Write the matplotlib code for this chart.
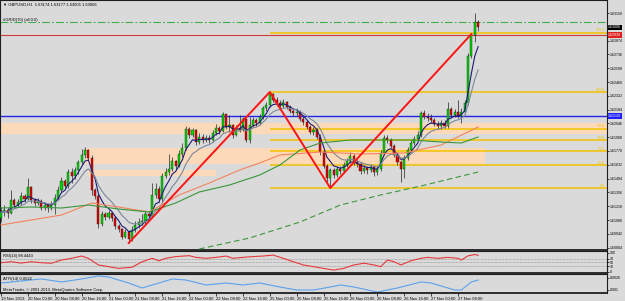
import matplotlib
matplotlib.use("Agg")
import matplotlib.pyplot as plt
import matplotlib.transforms as mtransforms
import numpy as np
import pandas as pd

# --- GBPUSD H1 candles (bar 0 = 19 Nov 2013 16:00) ---
first_open = 1.6110
close = [
    1.6116, 1.6118, 1.6115, 1.6128, 1.6123, 1.6126, 1.6132, 1.6129, 1.6141, 1.6128,
    1.6125, 1.6127, 1.6120, 1.6123, 1.6120, 1.6123, 1.6130, 1.6138, 1.6147, 1.6142,
    1.6156, 1.6152, 1.6158, 1.6166, 1.6173, 1.6178, 1.6170, 1.6138, 1.6132, 1.6104,
    1.6114, 1.6111, 1.6115, 1.6110, 1.6102, 1.6099, 1.6091, 1.6096, 1.6089, 1.6098,
    1.6103, 1.6106, 1.6107, 1.6114, 1.6112, 1.6133, 1.6139, 1.6129, 1.6152, 1.6156,
    1.6159, 1.6167, 1.6162, 1.6174, 1.6180, 1.6199, 1.6193, 1.6198, 1.6186, 1.6191,
    1.6188, 1.6190, 1.6188, 1.6195, 1.6200, 1.6197, 1.6214, 1.6201, 1.6203, 1.6193,
    1.6200, 1.6198, 1.6209, 1.6188, 1.6203, 1.6208, 1.6205, 1.6211, 1.6220, 1.6223,
    1.6234, 1.6228, 1.6225, 1.6222, 1.6226, 1.6221, 1.6217, 1.6215, 1.6216, 1.6209,
    1.6206, 1.6201, 1.6196, 1.6198, 1.6191, 1.6176, 1.6162, 1.6150, 1.6158, 1.6153,
    1.6159, 1.6157, 1.6163, 1.6167, 1.6172, 1.6166, 1.6164, 1.6157, 1.6160, 1.6158,
    1.6161, 1.6156, 1.6159, 1.6175, 1.6190, 1.6188, 1.6182, 1.6173, 1.6166, 1.6159,
    1.6170, 1.6178, 1.6185, 1.6189, 1.6193, 1.6215, 1.6211, 1.6210, 1.6208, 1.6204,
    1.6202, 1.6205, 1.6202, 1.6219, 1.6213, 1.6216, 1.6212, 1.6216, 1.6225, 1.6272,
    1.6293, 1.6306, 1.63006,
]
high = [
    1.6121, 1.6123, 1.6121, 1.6138, 1.6130, 1.6129, 1.6136, 1.6134, 1.6150, 1.6142,
    1.6130, 1.6130, 1.6129, 1.6126, 1.6125, 1.6127, 1.6134, 1.6142, 1.6151, 1.6149,
    1.6159, 1.6160, 1.6161, 1.6168, 1.6179, 1.6181, 1.6179, 1.6173, 1.6140, 1.6135,
    1.6117, 1.6116, 1.6118, 1.6116, 1.6112, 1.6104, 1.6100, 1.6099, 1.6098, 1.6102,
    1.6107, 1.6110, 1.6114, 1.6118, 1.6117, 1.6145, 1.6145, 1.6142, 1.6155, 1.6160,
    1.6174, 1.6171, 1.6168, 1.6178, 1.6185, 1.6202, 1.6201, 1.6200, 1.6199, 1.6195,
    1.6194, 1.6193, 1.6193, 1.6198, 1.6204, 1.6202, 1.6216, 1.6214, 1.6213, 1.6204,
    1.6203, 1.6213, 1.6211, 1.6210, 1.6211, 1.6211, 1.6210, 1.6214, 1.6222, 1.6226,
    1.6236, 1.6235, 1.6231, 1.6228, 1.6229, 1.6227, 1.6223, 1.6219, 1.6220, 1.6218,
    1.6212, 1.6208, 1.6203, 1.6201, 1.6200, 1.6194, 1.6178, 1.6164, 1.6160, 1.6160,
    1.6162, 1.6162, 1.6166, 1.6170, 1.6176, 1.6174, 1.6169, 1.6166, 1.6163, 1.6162,
    1.6164, 1.6163, 1.6162, 1.6178, 1.6193, 1.6193, 1.6190, 1.6184, 1.6176, 1.6168,
    1.6173, 1.6181, 1.6188, 1.6192, 1.6197, 1.6217, 1.6218, 1.6215, 1.6214, 1.6210,
    1.6207, 1.6208, 1.6208, 1.6226, 1.6221, 1.6219, 1.6228, 1.6220, 1.6228, 1.6275,
    1.6294, 1.6315, 1.6308,
]
low = [
    1.6106, 1.6112, 1.6110, 1.6114, 1.6120, 1.6121, 1.6123, 1.6126, 1.6128, 1.6125,
    1.6122, 1.6123, 1.6118, 1.6118, 1.6116, 1.6118, 1.6114, 1.6128, 1.6136, 1.6139,
    1.6140, 1.6145, 1.6149, 1.6154, 1.6164, 1.6170, 1.6168, 1.6133, 1.6129, 1.6100,
    1.6102, 1.6108, 1.6109, 1.6107, 1.6099, 1.6096, 1.6089, 1.6090, 1.6085, 1.6087,
    1.6096, 1.6100, 1.6103, 1.6104, 1.6108, 1.6111, 1.6130, 1.6126, 1.6126, 1.6150,
    1.6153, 1.6157, 1.6159, 1.6161, 1.6171, 1.6178, 1.6190, 1.6191, 1.6183, 1.6184,
    1.6185, 1.6186, 1.6185, 1.6186, 1.6193, 1.6194, 1.6196, 1.6199, 1.6196, 1.6190,
    1.6192, 1.6196, 1.6197, 1.6186, 1.6185, 1.6201, 1.6202, 1.6203, 1.6209, 1.6217,
    1.6221, 1.6226, 1.6222, 1.6220, 1.6220, 1.6219, 1.6215, 1.6212, 1.6212, 1.6207,
    1.6203, 1.6199, 1.6194, 1.6193, 1.6189, 1.6173, 1.6160, 1.6146, 1.6140, 1.6150,
    1.6151, 1.6154, 1.6155, 1.6161, 1.6165, 1.6163, 1.6161, 1.6154, 1.6155, 1.6154,
    1.6156, 1.6152, 1.6153, 1.6157, 1.6173, 1.6185, 1.6180, 1.6171, 1.6163, 1.6146,
    1.6150, 1.6168, 1.6176, 1.6183, 1.6187, 1.6191, 1.6209, 1.6207, 1.6205, 1.6202,
    1.6199, 1.6199, 1.6200, 1.6200, 1.6210, 1.6211, 1.6210, 1.6205, 1.6214, 1.6223,
    1.6270, 1.6286, 1.6297,
]

# slow moving averages at a few bars
ma_orange_bars = [0, 9, 18, 27, 35, 44, 53, 62, 71, 77, 83, 95, 107, 120, 131, 142]
ma_orange = [1.6103, 1.6108, 1.6113, 1.6125, 1.6121, 1.6116, 1.6133, 1.6145,
             1.6158, 1.6165, 1.6173, 1.6176, 1.6174, 1.6175, 1.6183, 1.6201]
ma_green_bars = [0, 9, 18, 26, 35, 44, 52, 59, 68, 77, 83, 89, 95, 104, 113, 122, 131, 137, 142]
ma_green = [1.6120, 1.6121, 1.6120, 1.6123, 1.6119, 1.6116, 1.6125, 1.6136, 1.6143,
            1.6153, 1.6163, 1.6178, 1.6185, 1.6188, 1.6188, 1.6188, 1.6186, 1.6185, 1.6191]
ma_long_bars = [59, 74, 89, 101, 113, 125, 142]
ma_long = [1.6079, 1.6090, 1.6106, 1.6123, 1.6133, 1.6142, 1.6156]

# horizontal levels and zones
grid_level = 1.6306
red_level = 1.6293
blue_level = 1.6212
zones = [  # (first bar, last bar, low, high)
    (-1, 181, 1.6194, 1.6205),
    (25, 144, 1.6164, 1.6180),
    (26, 64, 1.6152, 1.6158),
]
zigzag_bars = [38, 80, 98, 140]
zigzag_kind = ["low", "high", "low", "high"]
fib_ratios = [0.0, 23.6, 38.2, 50.0, 61.8, 100.0, 161.8]

# indicators
rsi_bars = [0, 3, 6, 9, 12, 15, 18, 21, 24, 26, 29, 32, 35, 39, 42, 45, 47, 49, 52, 56,
            58, 61, 64, 67, 69, 72, 75, 78, 81, 84, 87, 90, 93, 96, 99, 102, 105, 108,
            111, 113, 115, 117, 119, 122, 125, 127, 130, 133, 136, 137, 139, 141, 142]
rsi_vals = [49, 54, 47, 54, 49, 46, 63, 72, 84, 72, 37, 28, 19, 25, 54, 72, 59, 72, 81, 86,
            77, 72, 77, 84, 72, 77, 81, 84, 89, 72, 54, 37, 28, 19, 10, 19, 37, 46,
            37, 28, 63, 54, 37, 59, 72, 77, 72, 77, 72, 63, 85, 92, 88]
atr_bars = [0, 6, 12, 18, 24, 29, 32, 38, 42, 47, 51, 55, 61, 67, 72, 77, 83, 88, 93,
            98, 101, 105, 112, 118, 125, 128, 135, 137, 140, 142]
atr_vals = [0.00193, 0.00220, 0.00247, 0.00207, 0.00247, 0.00287, 0.00273, 0.00193,
            0.00127, 0.00193, 0.00247, 0.00233, 0.00167, 0.00193, 0.00167, 0.00193,
            0.00140, 0.00100, 0.00100, 0.00140, 0.00167, 0.00140, 0.00073, 0.00127,
            0.00207, 0.00193, 0.00100, 0.00100, 0.00207, 0.00233]

price_ticks = [1.63150, 1.63012, 1.62874, 1.62736, 1.62598, 1.62460, 1.62322, 1.62184,
               1.62046, 1.61908, 1.61770, 1.61632, 1.61494, 1.61356, 1.61218, 1.61080,
               1.60942, 1.60804]
date_bars = [0, 8, 16, 24, 32, 40, 48, 56, 64, 72, 80, 88, 96, 104, 112, 120, 128, 136]
date_labels = ["19 Nov 2013", "20 Nov 00:00", "20 Nov 08:00", "20 Nov 16:00",
               "21 Nov 00:00", "21 Nov 08:00", "21 Nov 16:00", "22 Nov 00:00",
               "22 Nov 08:00", "22 Nov 16:00", "25 Nov 00:00", "25 Nov 08:00",
               "25 Nov 16:00", "26 Nov 00:00", "26 Nov 08:00", "26 Nov 16:00",
               "27 Nov 00:00", "27 Nov 08:00"]

BG = "#dadada"
GOLD = "#f2c200"
W, H = 625, 301
FS = 3.0     # left / bottom texts
FS_R = 2.6   # right-hand price scale
XR = 607     # right edge of plotting area, px

plt.rcParams["font.family"] = ["Liberation Sans Narrow", "Liberation Sans", "DejaVu Sans"]

fig = plt.figure(figsize=(W / 100, H / 100), dpi=100)
fig.patch.set_facecolor(BG)


def fy(y):
    return 1 - y / H


def panel(top, bottom):
    a = fig.add_axes([0.0, 1 - bottom / H, XR / W, (bottom - top) / H])
    a.set_facecolor(BG)
    a.set_xlim(-0.3, (XR - 1) / 3.36)
    a.yaxis.tick_right()
    a.tick_params(axis="y", labelsize=FS_R, length=1.5, width=0.5, pad=0.6)
    a.tick_params(axis="x", bottom=False, labelbottom=False)
    for s in a.spines.values():
        s.set_color("#1e1e1e")
        s.set_linewidth(0.8)
    a.spines["bottom"].set_linewidth(1.3)
    return a


ax = panel(0, 250)
ax_rsi = panel(251, 273)
ax_atr = panel(274, 293)

c = np.array(close)
h = np.array(high)
l = np.array(low)
o = np.r_[first_open, c[:-1]]
idx = np.arange(len(c))

# --- main price panel ---
ax.set_ylim(1.6078, 1.6328)
ax.set_yticks(price_ticks)
# the tick hidden behind the current-price box stays unlabelled
labels = []
for v in price_ticks:
    labels.append("" if abs(v - c[-1]) < 0.0004 else f"{v:.5f}")
ax.set_yticklabels(labels)

for x0, x1, lo, hi in zones:
    ax.fill_between([x0, x1], lo, hi, color="#fcd9b8", lw=0, zorder=1)

ax.axhline(grid_level, color="#3fae49", lw=0.8, ls=(0, (7, 2, 1.5, 2)), zorder=2)
ax.axhline(red_level, color="#d03a3a", lw=0.8, zorder=2)
ax.axhline(blue_level, color="#2424e8", lw=1.0, zorder=2)

fib_lo = l[98]
fib_hi = h[80]
x_end = (XR - 1) / 3.36
for r in fib_ratios:
    lvl = fib_lo + r / 100 * (fib_hi - fib_lo)
    ax.hlines(lvl, 80, x_end, color=GOLD, lw=1.1, zorder=2)
    ax.text(x_end - 0.6, lvl + 0.00004, f"{r:.1f}", color=GOLD, fontsize=FS_R,
            ha="right", va="bottom", zorder=7)

up = c >= o
body = np.maximum(np.abs(c - o), 0.00003)
ax.vlines(idx, l, h, color="#252525", lw=0.5, zorder=3)
ax.bar(idx[up], body[up], bottom=o[up], width=0.62, color="#00d400",
       edgecolor="#124012", lw=0.3, zorder=4)
ax.bar(idx[~up], body[~up], bottom=c[~up], width=0.62, color="#e00000",
       edgecolor="#401212", lw=0.3, zorder=4)

closes = pd.Series(c)
ax.plot(idx, closes.ewm(span=5, adjust=False).mean(), color="#1b1b78", lw=0.8, zorder=5)
ax.plot(idx, closes.ewm(span=10, adjust=False).mean(), color="#7a8899", lw=0.8, zorder=5)
ax.plot(ma_orange_bars, ma_orange, color="#f3845c", lw=0.8, zorder=5)
ax.plot(ma_green_bars, ma_green, color="#3a963a", lw=0.8, zorder=5)
ax.plot(ma_long_bars, ma_long, color="#3a963a", lw=0.8, ls=(0, (5, 3)), zorder=5)

zz_y = [l[b] if k == "low" else h[b] for b, k in zip(zigzag_bars, zigzag_kind)]
ax.plot(zigzag_bars, zz_y, color="#ff1414", lw=1.4, zorder=6)

trans = mtransforms.blended_transform_factory(ax.transAxes, ax.transData)
for val, fc in [(c[-1], "black"), (red_level, "#e01e1e"), (blue_level, "#1e1eff")]:
    ax.text(1.002, val, f"{val:.5f}", transform=trans, fontsize=FS_R, color="white",
            ha="left", va="center", clip_on=False, zorder=10,
            bbox=dict(boxstyle="square,pad=0.15", fc=fc, ec="none"))

fig.text(3 / W, fy(5), "\u25bc GBPUSD,H1  1.63174 1.63177 1.63005 1.63006",
         fontsize=FS, va="center")
fig.text(3 / W, fy(19.5), "#GRID(70) (all 0.0)", fontsize=FS, va="center")

# --- RSI ---
ax_rsi.set_ylim(-5.3, 110.5)
ax_rsi.set_yticks([0, 30, 50, 70, 100])
ax_rsi.set_yticklabels(["0", "30", "50", "70", "100"])
for lv in (30, 50, 70):
    ax_rsi.axhline(lv, color="#8c8c8c", lw=0.5, ls=(0, (1, 1)))
ax_rsi.plot(rsi_bars, rsi_vals, color="#e8383c", lw=0.8)
fig.text(3 / W, fy(255.5), "RSI(14) 88.4443", fontsize=FS, va="center")

# --- ATR ---
ax_atr.set_ylim(0.0006, 0.00313)
ax_atr.set_yticks([0.001, 0.0026])
ax_atr.set_yticklabels(["0.001", "0.0026"])
ax_atr.plot(atr_bars, atr_vals, color="#5aa2ec", lw=0.8)
fig.text(3 / W, fy(279), "ATR(14) 0.0022", fontsize=FS, va="center")
fig.text(3 / W, fy(289.5), "MetaTrader, \u00a9 2001-2013, MetaQuotes Software Corp.",
         fontsize=FS, va="center")

ax_atr.set_xticks(date_bars)
ax_atr.set_xticklabels(date_labels, ha="left")
ax_atr.tick_params(axis="x", bottom=True, labelbottom=True, labelsize=FS,
                   length=2, width=0.5, pad=1)

fig.savefig("out.png", dpi=100, facecolor=BG)
